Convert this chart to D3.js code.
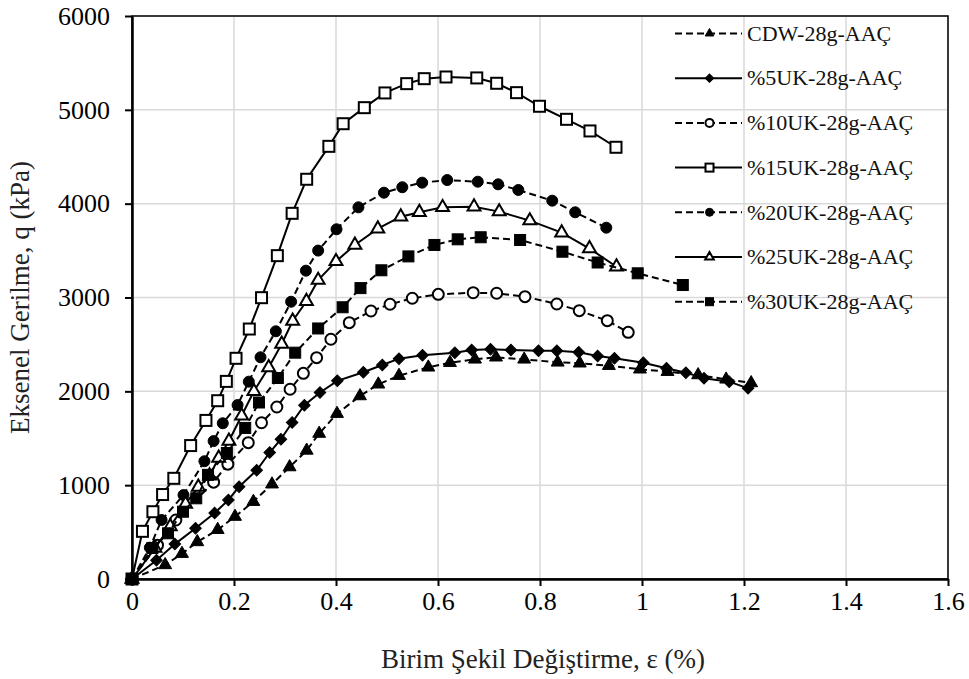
<!DOCTYPE html>
<html>
<head>
<meta charset="utf-8">
<script src="https://cdn.jsdelivr.net/npm/d3@7"></script>
<style>
  html, body { margin: 0; padding: 0; background: #fff; }
  svg { display: block; }
  svg text { font-family: "Liberation Serif", "Times New Roman", serif; }
</style>
</head>
<body>
<svg id="chart" width="969" height="679"></svg>
<script>
// Axial stress (kPa) versus unit strain (%) for each mix
const xTicks = [0, 0.2, 0.4, 0.6, 0.8, 1.0, 1.2, 1.4, 1.6];
const xTickLabels = ["0", "0.2", "0.4", "0.6", "0.8", "1", "1.2", "1.4", "1.6"];
const yTicks = [0, 1000, 2000, 3000, 4000, 5000, 6000];
const yTickLabels = ["0", "1000", "2000", "3000", "4000", "5000", "6000"];

const seriesNames = ["CDW-28g-AAÇ", "%5UK-28g-AAÇ", "%10UK-28g-AAÇ", "%15UK-28g-AAÇ",
                     "%20UK-28g-AAÇ", "%25UK-28g-AAÇ", "%30UK-28g-AAÇ"];

const strainCDW = [0, 0.065, 0.098, 0.128, 0.168, 0.202, 0.238, 0.2745, 0.309, 0.3425, 0.367, 0.402, 0.447, 0.483, 0.5235, 0.581, 0.6235, 0.6725, 0.7137, 0.769, 0.8347, 0.878, 0.935, 0.996, 1.05, 1.11, 1.165, 1.214];
const stressCDW = [0, 150, 270, 395, 525, 665, 824, 1010, 1193, 1370, 1550, 1762, 1950, 2075, 2167, 2256, 2305, 2341, 2363, 2341, 2309, 2299, 2273, 2235, 2209, 2174, 2128, 2089];

const strainUK5 = [0, 0.048, 0.084, 0.1245, 0.162, 0.189, 0.21, 0.2445, 0.27, 0.292, 0.314, 0.338, 0.3686, 0.4026, 0.4536, 0.4908, 0.5235, 0.5696, 0.633, 0.666, 0.703, 0.743, 0.797, 0.833, 0.876, 0.913, 0.946, 1.0026, 1.048, 1.086, 1.1216, 1.171, 1.208];
const stressUK5 = [0, 200, 372, 540, 703, 842, 984, 1158, 1348, 1490, 1668, 1852, 1988, 2112, 2203, 2281, 2348, 2384, 2412, 2441, 2448, 2441, 2433, 2433, 2416, 2377, 2352, 2305, 2245, 2199, 2139, 2103, 2032];

const strainUK10 = [0, 0.05, 0.086, 0.16, 0.188, 0.228, 0.254, 0.284, 0.31, 0.336, 0.362, 0.39, 0.426, 0.4686, 0.506, 0.5496, 0.6006, 0.669, 0.715, 0.7706, 0.833, 0.877, 0.932, 0.973];
const stressUK10 = [0, 360, 629, 1032, 1224, 1453, 1665, 1833, 2022, 2192, 2359, 2555, 2732, 2856, 2928, 2992, 3034, 3051, 3045, 3009, 2931, 2860, 2753, 2629];

const strainUK15 = [0, 0.0205, 0.041, 0.06, 0.082, 0.115, 0.145, 0.168, 0.185, 0.204, 0.23, 0.254, 0.285, 0.314, 0.3425, 0.386, 0.414, 0.4555, 0.496, 0.5386, 0.573, 0.6157, 0.676, 0.715, 0.754, 0.799, 0.852, 0.898, 0.949];
const stressUK15 = [0, 508, 717, 900, 1073, 1422, 1690, 1900, 2106, 2352, 2664, 2998, 3446, 3897, 4260, 4611, 4852, 5023, 5180, 5279, 5332, 5350, 5340, 5283, 5183, 5038, 4899, 4775, 4601];

const strainUK20 = [0, 0.035, 0.058, 0.101, 0.142, 0.16, 0.178, 0.207, 0.229, 0.252, 0.282, 0.312, 0.341, 0.365, 0.401, 0.444, 0.494, 0.53, 0.569, 0.618, 0.678, 0.718, 0.7575, 0.824, 0.869, 0.93];
const stressUK20 = [0, 334, 629, 895, 1255, 1470, 1660, 1854, 2103, 2363, 2640, 2955, 3286, 3500, 3727, 3961, 4117, 4175, 4224, 4252, 4234, 4206, 4146, 4032, 3908, 3744];

const strainUK25 = [0, 0.045, 0.075, 0.105, 0.13, 0.152, 0.17, 0.19, 0.215, 0.239, 0.268, 0.2935, 0.315, 0.342, 0.365, 0.4, 0.437, 0.482, 0.527, 0.5634, 0.609, 0.6706, 0.72, 0.78, 0.8425, 0.897, 0.95];
const stressUK25 = [0, 330, 560, 800, 980, 1100, 1290, 1470, 1740, 2000, 2255, 2505, 2750, 2960, 3185, 3385, 3560, 3733, 3861, 3908, 3961, 3968, 3915, 3819, 3691, 3522, 3328];

const strainUK30 = [0, 0.04, 0.0706, 0.1, 0.126, 0.149, 0.186, 0.222, 0.249, 0.286, 0.32, 0.365, 0.413, 0.448, 0.489, 0.542, 0.593, 0.6386, 0.6837, 0.761, 0.844, 0.913, 0.9916, 1.08];
const stressUK30 = [0, 330, 487, 717, 860, 1110, 1343, 1610, 1881, 2142, 2412, 2670, 2896, 3100, 3290, 3438, 3560, 3620, 3642, 3613, 3488, 3373, 3258, 3133];

const strains = [strainCDW, strainUK5, strainUK10, strainUK15, strainUK20, strainUK25, strainUK30];
const stresses = [stressCDW, stressUK5, stressUK10, stressUK15, stressUK20, stressUK25, stressUK30];

// line style and marker per series: dashed/solid, symbol kind, filled/open
const dashed = [true, false, true, false, true, false, true];
const markerKind = ["triangle", "diamond", "circle", "square", "circle", "triangle", "square"];
const markerFilled = [true, true, false, false, true, false, true];

const FONT = "'Liberation Serif', 'Times New Roman', serif";

const svg = d3.select("#chart");
const W = 969, H = 679;
const margin = { left: 132, right: W - 948, top: 16, bottom: H - 579 };
const iw = W - margin.left - margin.right;
const ih = H - margin.top - margin.bottom;

const x = d3.scaleLinear().domain([0, 1.6]).range([margin.left, margin.left + iw]);
const y = d3.scaleLinear().domain([0, 6000]).range([margin.top + ih, margin.top]);

// gridlines
const grid = svg.append("g");
grid.selectAll("line.vx").data(xTicks.slice(1)).join("line")
  .attr("x1", d => x(d)).attr("x2", d => x(d))
  .attr("y1", y(0)).attr("y2", y(6000))
  .attr("stroke", "#d9d9d9").attr("stroke-width", 1.5);
grid.selectAll("line.hy").data(yTicks.slice(1)).join("line")
  .attr("x1", x(0)).attr("x2", x(1.6))
  .attr("y1", d => y(d)).attr("y2", d => y(d))
  .attr("stroke", "#d9d9d9").attr("stroke-width", 1.5);

// frame on top/right
svg.append("rect")
  .attr("x", x(0)).attr("y", y(6000))
  .attr("width", x(1.6) - x(0)).attr("height", y(0) - y(6000))
  .attr("fill", "none").attr("stroke", "#000").attr("stroke-width", 1.5);

// axes
const xAxis = svg.append("g").attr("transform", `translate(0,${y(0)})`)
  .call(d3.axisBottom(x).tickValues(xTicks).tickFormat((d, i) => xTickLabels[i])
    .tickSizeInner(7).tickSizeOuter(0).tickPadding(6));
const yAxis = svg.append("g").attr("transform", `translate(${x(0)},0)`)
  .call(d3.axisLeft(y).tickValues(yTicks).tickFormat((d, i) => yTickLabels[i])
    .tickSizeInner(7).tickSizeOuter(0).tickPadding(15));
[xAxis, yAxis].forEach(g => {
  g.attr("font-family", FONT).attr("font-size", 26);
  g.select(".domain").attr("stroke", "#000").attr("stroke-width", 2.5);
  g.selectAll(".tick line").attr("stroke", "#000").attr("stroke-width", 2);
  g.selectAll(".tick text").attr("fill", "#000")
    .attr("font-family", FONT).attr("font-size", 26);
});

// axis titles
svg.append("text")
  .attr("x", (x(0) + x(1.6)) / 2 + 3).attr("y", 668)
  .attr("text-anchor", "middle").attr("font-family", FONT).attr("font-size", 27).attr("fill", "#222")
  .text("Birim Şekil Değiştirme, ε (%)");
svg.append("text")
  .attr("transform", `translate(29,${(y(0) + y(6000)) / 2}) rotate(-90)`)
  .attr("text-anchor", "middle").attr("font-family", FONT).attr("font-size", 27).attr("fill", "#222")
  .text("Eksenel Gerilme, q (kPa)");

// marker drawing helper
function drawMarker(g, kind, filled, size) {
  const fill = filled ? "#000" : "#fff";
  const s = size;
  let el;
  if (kind === "circle") {
    el = g.append("circle").attr("r", s / 2);
  } else if (kind === "square") {
    el = g.append("rect").attr("x", -s / 2).attr("y", -s / 2).attr("width", s).attr("height", s);
  } else if (kind === "triangle") {
    el = g.append("path").attr("d", d3.symbol().type(d3.symbolTriangle).size(s * s * 0.5)());
  } else {
    el = g.append("path").attr("d", d3.symbol().type(d3.symbolSquare).size(s * s * 0.55)())
      .attr("transform", "rotate(45)");
  }
  el.attr("fill", fill).attr("stroke", "#000").attr("stroke-width", filled ? 1 : 2);
  return el;
}

const line = d3.line().x(d => x(d[0])).y(d => y(d[1]));

strains.forEach((xs, i) => {
  const pts = xs.map((v, j) => [v, stresses[i][j]]);
  const g = svg.append("g");
  g.append("path").attr("d", line(pts))
    .attr("fill", "none").attr("stroke", "#000").attr("stroke-width", 2)
    .attr("stroke-dasharray", dashed[i] ? "7,4" : null);
  pts.forEach(p => {
    const mg = g.append("g").attr("transform", `translate(${x(p[0])},${y(p[1])})`);
    drawMarker(mg, markerKind[i], markerFilled[i], markerKind[i] === "triangle" ? 12 : 11);
  });
});

// legend
const legend = svg.append("g");
const legX0 = 675, legX1 = 742, legTextX = 747, legY0 = 33.5, legStep = 44.7;
seriesNames.forEach((name, i) => {
  const ly = legY0 + i * legStep;
  const g = legend.append("g");
  g.append("line").attr("x1", legX0).attr("x2", legX1).attr("y1", ly).attr("y2", ly)
    .attr("stroke", "#000").attr("stroke-width", 2)
    .attr("stroke-dasharray", dashed[i] ? "7,4" : null);
  const mg = g.append("g").attr("transform", `translate(${(legX0 + legX1) / 2 + 1},${ly})`);
  drawMarker(mg, markerKind[i], markerFilled[i], 8);
  g.append("text").attr("x", legTextX).attr("y", ly).attr("dy", "0.33em")
    .attr("font-family", FONT).attr("font-size", 22).attr("fill", "#111").text(name);
});
</script>
</body>
</html>
